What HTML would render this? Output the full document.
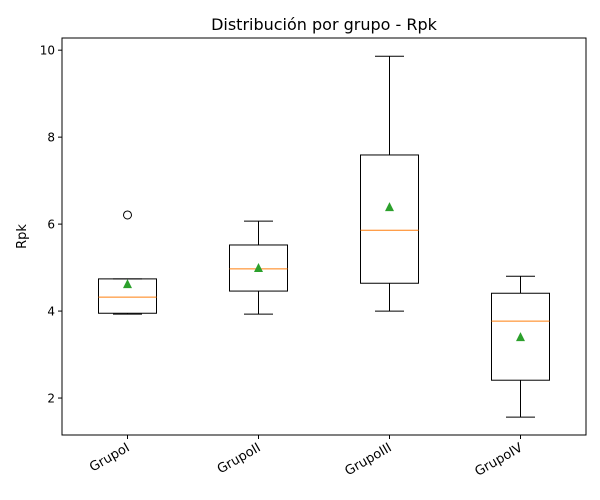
<!DOCTYPE html>
<html><head><meta charset="utf-8"><style>
html,body{margin:0;padding:0;background:#fff;}
svg{display:block;font-family:"DejaVu Sans","Liberation Sans",sans-serif;}
</style></head><body>
<svg id="chart" width="600" height="500"></svg>
<script>
const categories = ["GrupoI","GrupoII","GrupoIII","GrupoIV"];
const whiskerLow = [3.93, 3.93, 4.0, 1.56];
const q1 = [3.95, 4.46, 4.64, 2.41];
const medians = [4.32, 4.97, 5.86, 3.77];
const q3 = [4.74, 5.52, 7.59, 4.41];
const whiskerHigh = [4.74, 6.07, 9.86, 4.80];
const means = [4.62, 4.99, 6.39, 3.40];
const outliers = [[6.21], [], [], []];
const yTicks = [2, 4, 6, 8, 10];

const L=62,R=586,T=38,B=435, yMin=1.15, yMax=10.28;
const y = v => B - (v - yMin)/(yMax - yMin)*(B - T);
const x = i => L + (i + 0.5)/categories.length*(R - L);
const NS="http://www.w3.org/2000/svg";
const svg=document.getElementById('chart');
function mk(tag, attrs, parent){const e=document.createElementNS(NS,tag);for(const k in attrs)e.setAttribute(k,attrs[k]);(parent||svg).appendChild(e);return e;}

const title=mk('text',{x:(L+R)/2,y:30,'text-anchor':'middle','font-size':16,fill:'#000'});
title.textContent="Distribución por grupo - Rpk";



const frame=mk('rect',{x:L,y:T,width:R-L,height:B-T,fill:'none',stroke:'#000','stroke-width':1});



const yl=mk('text',{x:26,y:(T+B)/2,'text-anchor':'middle','font-size':13,transform:`rotate(-90 26 ${(T+B)/2})`});
yl.textContent="Rpk";



yTicks.forEach(t=>{
  const g=mk('g',{});
  
  
  mk('line',{x1:L-4,x2:L,y1:y(t),y2:y(t),stroke:'#000'},g);
  const tx=mk('text',{x:L-7,y:y(t)+4.5,'text-anchor':'end','font-size':12},g);
  tx.textContent=t;
});

const hw=29;
categories.forEach((c,i)=>{
  const cx=x(i);
  const g=mk('g',{});
  
  
  mk('line',{x1:cx,x2:cx,y1:y(whiskerLow[i]),y2:y(q1[i]),stroke:'#000'},g);
  mk('line',{x1:cx,x2:cx,y1:y(q3[i]),y2:y(whiskerHigh[i]),stroke:'#000'},g);
  mk('line',{x1:cx-14.5,x2:cx+14.5,y1:y(whiskerLow[i]),y2:y(whiskerLow[i]),stroke:'#000'},g);
  mk('line',{x1:cx-14.5,x2:cx+14.5,y1:y(whiskerHigh[i]),y2:y(whiskerHigh[i]),stroke:'#000'},g);
  mk('rect',{x:cx-hw,y:y(q3[i]),width:2*hw,height:y(q1[i])-y(q3[i]),fill:'none',stroke:'#000'},g);
  mk('line',{x1:cx-hw,x2:cx+hw,y1:y(medians[i]),y2:y(medians[i]),stroke:'#ff7f0e'},g);
  const my=y(means[i]);
  mk('polygon',{points:`${cx},${my-5} ${cx-4.5},${my+4} ${cx+4.5},${my+4}`,fill:'#2ca02c'},g);
  outliers[i].forEach(o=>mk('circle',{cx:cx,cy:y(o),r:4,fill:'none',stroke:'#000'},g));
  mk('line',{x1:cx,x2:cx,y1:B,y2:B+4,stroke:'#000'},g);
  const tx=mk('text',{x:cx+3,y:B+15,'text-anchor':'end','font-size':13,transform:`rotate(-30 ${cx+3} ${B+15})`});
  tx.textContent=c;
  
  
});
</script>
</body></html>
